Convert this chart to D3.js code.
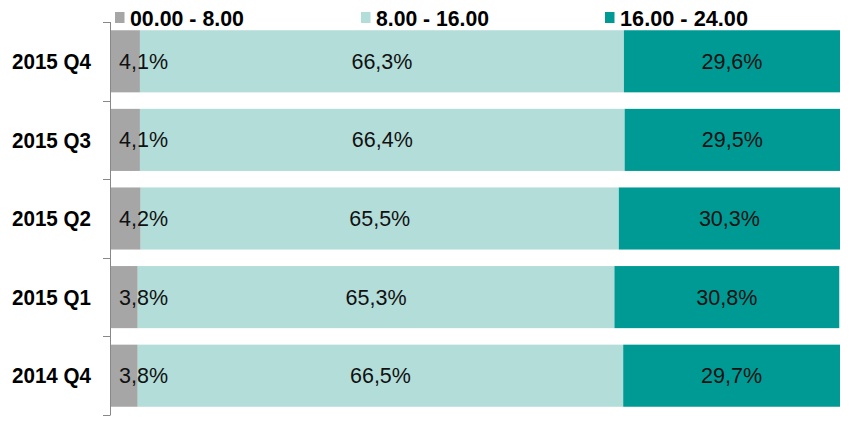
<!DOCTYPE html>
<html><head><meta charset="utf-8">
<script src="https://cdn.jsdelivr.net/npm/d3@7"></script>
<style>body{margin:0;background:#fff}svg{display:block}</style>
</head><body>
<svg id="c" width="854" height="427"></svg>
<script>
const categories = ["2015 Q4", "2015 Q3", "2015 Q2", "2015 Q1", "2014 Q4"];
const seriesNames = ["00.00 - 8.00", "8.00 - 16.00", "16.00 - 24.00"];
const night = [4.1, 4.1, 4.2, 3.8, 3.8];
const day = [66.3, 66.4, 65.5, 65.3, 66.5];
const evening = [29.6, 29.5, 30.3, 30.8, 29.7];
const colors = ["#a6a6a6", "#b3ddd9", "#009a95"];

const svg = d3.select("#c");
const x = d3.scaleLinear().domain([0, 100]).range([110, 840]);
const y = d3.scaleBand().domain(categories).range([22, 415]).paddingInner(0.21).paddingOuter(0.105);

const rows = categories.map((c, i) => ({cat: c, vals: [night[i], day[i], evening[i]]}));
const fmt = v => v.toFixed(1).replace(".", ",") + "%";

rows.forEach(r => {
  let acc = 0;
  r.vals.forEach((v, j) => {
    const x0 = x(acc), x1 = x(acc + v);
    svg.append("rect").attr("x", x0).attr("y", y(r.cat)).attr("width", x1 - x0).attr("height", y.bandwidth()).attr("fill", colors[j]);
    acc += v;
  });
});
rows.forEach(r => {
  let acc = 0;
  r.vals.forEach((v, j) => {
    const x0 = x(acc), x1 = x(acc + v);
    const t = svg.append("text").attr("y", y(r.cat) + y.bandwidth() / 2).attr("dy", "0.35em")
      .attr("font-family", "Liberation Sans, Arial, sans-serif").attr("font-size", 21.5).attr("fill", "#111")
      .text(fmt(v));
    if (j === 0) t.attr("x", x0 + 9).attr("text-anchor", "start");
    else t.attr("x", (x0 + x1) / 2).attr("text-anchor", "middle");
    acc += v;
  });
});

// axis
const g = svg.append("g");
g.append("line").attr("x1", 110.5).attr("x2", 110.5).attr("y1", 22).attr("y2", 415).attr("stroke", "#888");
const bounds = [22].concat(categories.map(c => y(c) + y.bandwidth() + y.step() * y.paddingInner() / 2));
bounds[bounds.length - 1] = 415;
bounds.forEach(b => g.append("line").attr("x1", 103).attr("x2", 110.5).attr("y1", Math.round(b) + 0.5).attr("y2", Math.round(b) + 0.5).attr("stroke", "#888"));
categories.forEach(c => {
  const t = svg.append("text").attr("x", 0).attr("y", 0).attr("dy", "0.35em")
    .attr("text-anchor", "end").attr("font-family", "Liberation Sans, Arial, sans-serif")
    .attr("font-weight", "bold").attr("font-size", 22).attr("fill", "#000").text(c);
  const w = t.node().getComputedTextLength();
  t.attr("transform", `translate(91,${y(c) + y.bandwidth() / 2}) scale(${79 / w},1)`);
});

// legend
const legX = [115, 361, 605];
const legW = [114, 113, 128];
seriesNames.forEach((n, i) => {
  svg.append("rect").attr("x", legX[i]).attr("y", 12).attr("width", 9.5).attr("height", 11).attr("fill", colors[i]);
  const t = svg.append("text").attr("x", 0).attr("y", 0)
    .attr("font-family", "Liberation Sans, Arial, sans-serif").attr("font-weight", "bold")
    .attr("font-size", 22.5).attr("fill", "#000").text(n);
  const w = t.node().getComputedTextLength();
  t.attr("transform", `translate(${legX[i] + 15},26) scale(${legW[i] / w},1)`);
});
</script>
</body></html>
